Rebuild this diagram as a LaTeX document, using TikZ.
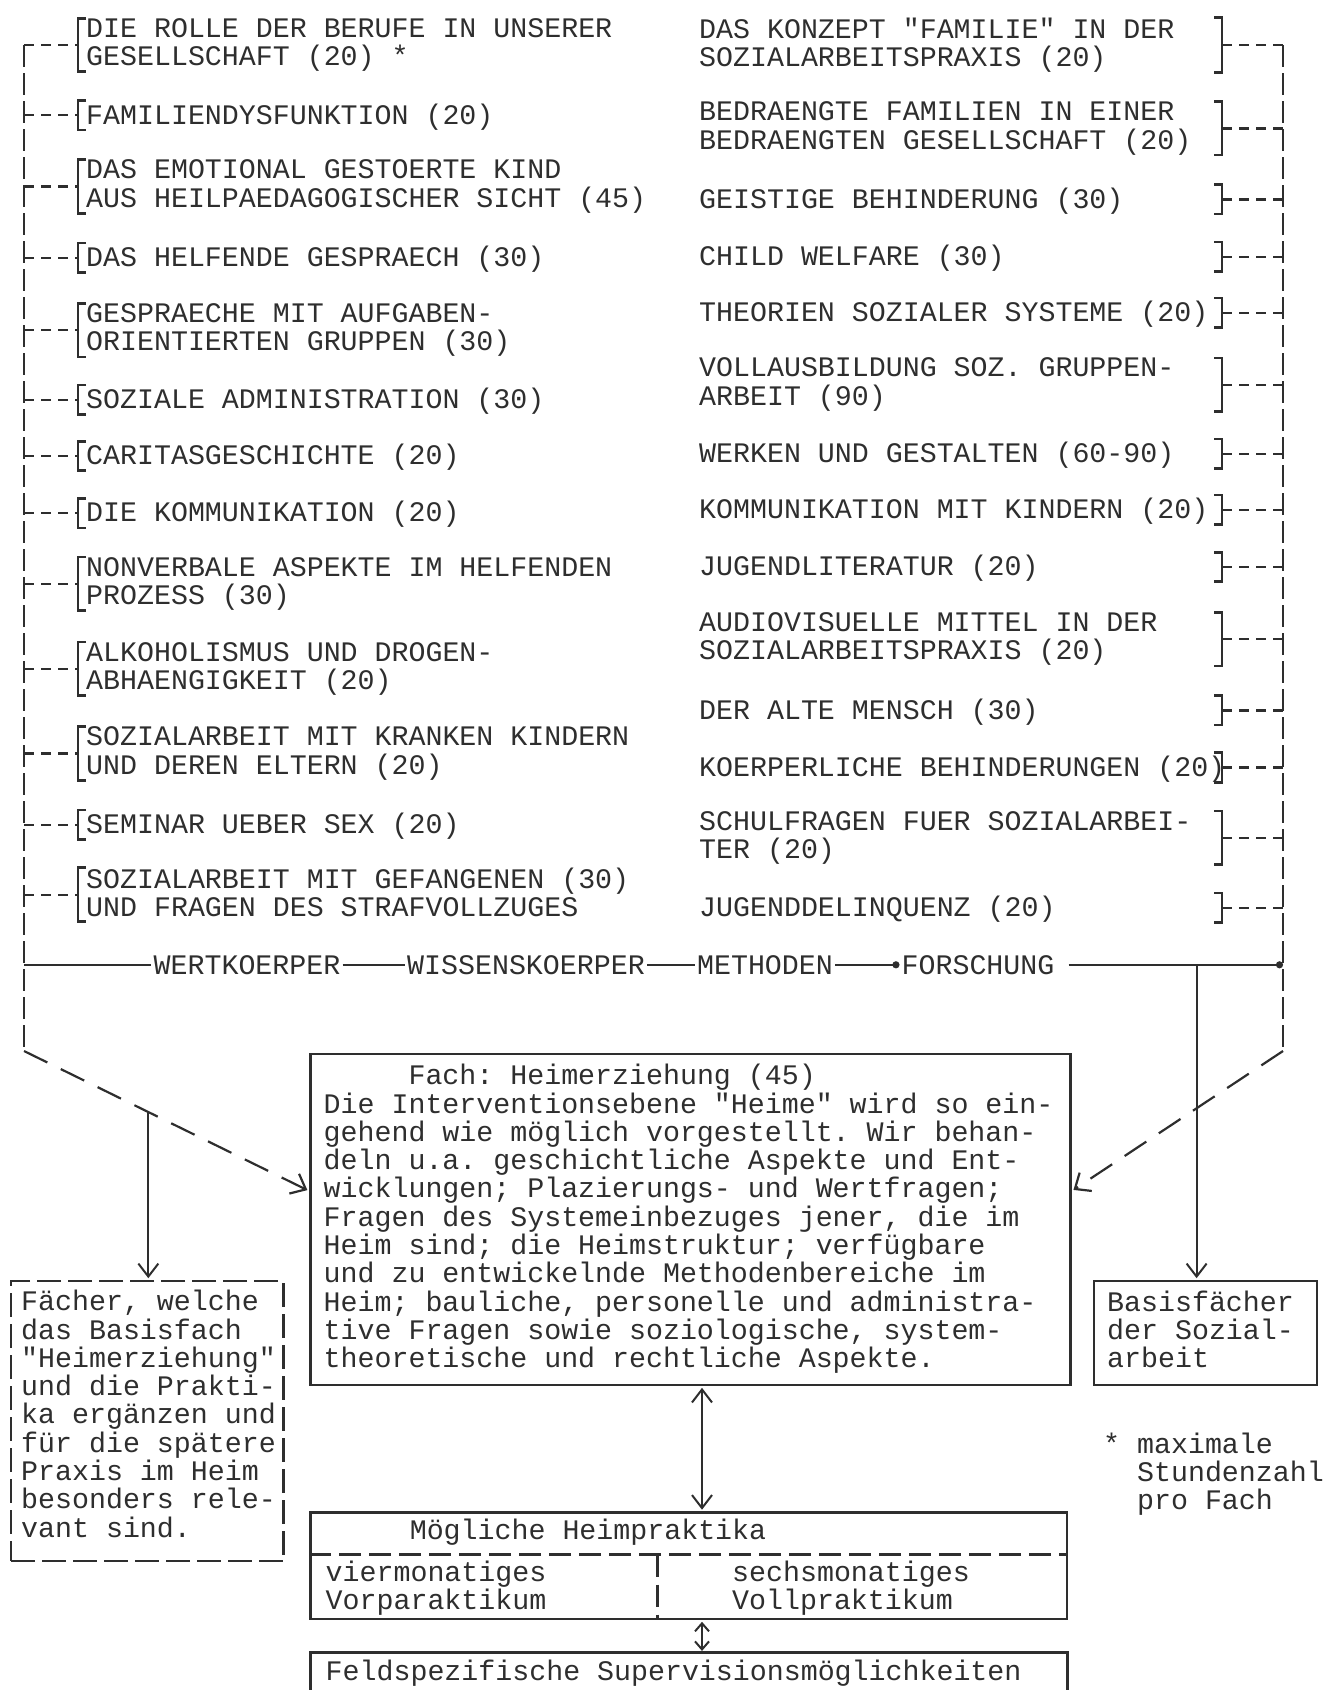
\documentclass[tikz,border=0pt]{standalone}
\usepackage{fontspec}
\setmonofont{Liberation Mono}
\usetikzlibrary{arrows.meta,calc,fit}
\newcommand{\itemfont}{\ttfamily\fontsize{28.28pt}{28.3pt}\selectfont}
\newcommand{\itemstrut}{\rule[-4.7pt]{0pt}{28pt}}
\colorlet{ink}{black!82}
\frenchspacing

\begin{document}
\begin{tikzpicture}[x=1pt,y=-1pt,line join=miter,
    item/.style={font=\itemfont,text=ink,align=left,anchor=west,inner xsep=0pt,inner ysep=0pt,execute at begin node=\itemstrut,execute at end node=\itemstrut},
    litem/.style={item,inner xsep=8pt},
    lbl/.style={item,anchor=center,inner xsep=2pt},
    frame/.style={draw=ink,line width=2.6pt,inner sep=0pt},
    dashframe/.style={frame,dash pattern=on 24pt off 7pt},
    brk/.style={draw=ink,line width=2.6pt},
    spine/.style={draw=ink,line width=2.2pt,dash pattern=on 22pt off 6pt},
    stub/.style={draw=ink,line width=2.2pt,dash pattern=on 10pt off 7pt},
    divide/.style={draw=ink,line width=2.4pt,dash pattern=on 22pt off 8pt},
    diag/.style={draw=ink,line width=2.2pt,dash pattern=on 26pt off 15pt,shorten >=2pt,-{Straight Barb[length=13pt,width=22pt]}},
    base/.style={draw=ink,line width=2.6pt},
    link/.style={draw=ink,line width=2pt,shorten >=1.5pt,-{Straight Barb[length=13pt,width=20pt]}},
    both/.style={draw=ink,line width=2pt,shorten >=1.5pt,shorten <=1.5pt,{Straight Barb[length=13pt,width=20pt]}-{Straight Barb[length=13pt,width=20pt]}},
    bothsmall/.style={draw=ink,line width=2pt,shorten >=1.5pt,shorten <=1.5pt,{Straight Barb[length=8pt,width=14pt]}-{Straight Barb[length=8pt,width=14pt]}}]
  \useasboundingbox (0,0) rectangle (1325,1690);

  % left column
  \node[litem] (l1)  at (78,45)    {DIE ROLLE DER BERUFE IN UNSERER\\GESELLSCHAFT (20) *};
  \node[litem] (l2)  at (78,115.3) {FAMILIENDYSFUNKTION (20)};
  \node[litem] (l3)  at (78,186.5) {DAS EMOTIONAL GESTOERTE KIND\\AUS HEILPAEDAGOGISCHER SICHT (45)};
  \node[litem] (l4)  at (78,257.6) {DAS HELFENDE GESPRAECH (30)};
  \node[litem] (l5)  at (78,330.2) {GESPRAECHE MIT AUFGABEN-\\ORIENTIERTEN GRUPPEN (30)};
  \node[litem] (l6)  at (78,399.9) {SOZIALE ADMINISTRATION (30)};
  \node[litem] (l7)  at (78,456)   {CARITASGESCHICHTE (20)};
  \node[litem] (l8)  at (78,513.1) {DIE KOMMUNIKATION (20)};
  \node[litem] (l9)  at (78,583.7) {NONVERBALE ASPEKTE IM HELFENDEN\\PROZESS (30)};
  \node[litem] (l10) at (78,668.9) {ALKOHOLISMUS UND DROGEN-\\ABHAENGIGKEIT (20)};
  \node[litem] (l11) at (78,753.5) {SOZIALARBEIT MIT KRANKEN KINDERN\\UND DEREN ELTERN (20)};
  \node[litem] (l12) at (78,824.7) {SEMINAR UEBER SEX (20)};
  \node[litem] (l13) at (78,894.7) {SOZIALARBEIT MIT GEFANGENEN (30)\\UND FRAGEN DES STRAFVOLLZUGES};

  % right column
  \node[item] (r1)  at (699,45)    {DAS KONZEPT "FAMILIE" IN DER\\SOZIALARBEITSPRAXIS (20)};
  \node[item] (r2)  at (699,128.4) {BEDRAENGTE FAMILIEN IN EINER\\BEDRAENGTEN GESELLSCHAFT (20)};
  \node[item] (r3)  at (699,199.4) {GEISTIGE BEHINDERUNG (30)};
  \node[item] (r4)  at (699,256.6) {CHILD WELFARE (30)};
  \node[item] (r5)  at (699,312.6) {THEORIEN SOZIALER SYSTEME (20)};
  \node[item] (r6)  at (699,384.6) {VOLLAUSBILDUNG SOZ. GRUPPEN-\\ARBEIT (90)};
  \node[item] (r7)  at (699,453.8) {WERKEN UND GESTALTEN (60-90)};
  \node[item] (r8)  at (699,509.9) {KOMMUNIKATION MIT KINDERN (20)};
  \node[item] (r9)  at (699,567)   {JUGENDLITERATUR (20)};
  \node[item] (r10) at (699,639.2) {AUDIOVISUELLE MITTEL IN DER\\SOZIALARBEITSPRAXIS (20)};
  \node[item] (r11) at (699,710.4) {DER ALTE MENSCH (30)};
  \node[item] (r12) at (699,767.5) {KOERPERLICHE BEHINDERUNGEN (20)};
  \node[item] (r13) at (699,837.8) {SCHULFRAGEN FUER SOZIALARBEI-\\TER (20)};
  \node[item] (r14) at (699,907.7) {JUGENDDELINQUENZ (20)};

  \coordinate (ltop) at (24,45);
  \coordinate (lbot) at (24,1051);
  \coordinate (rtop) at (1283,45);
  \coordinate (rbot) at (1283,1051);
  \coordinate (rb) at (1222,0);

  % dashed spines with brackets
  \draw[spine] (ltop) -- (lbot);
  \draw[spine] (rtop) -- (rbot);
  \foreach \i in {1,...,13} {
    \draw[brk] ([xshift=8pt]l\i.north west) -- (l\i.north west) -- (l\i.south west) -- ([xshift=8pt]l\i.south west);
    \draw[stub] (l\i.west -| ltop) -- (l\i.west);
  }
  \foreach \i in {1,...,14} {
    \draw[brk] ($(r\i.north -| rb)+(-8,0)$) -- (r\i.north -| rb) -- (r\i.south -| rb) -- ($(r\i.south -| rb)+(-8,0)$);
    \draw[stub] (r\i.west -| rb) -- (r\i.west -| rtop);
  }

  % base line
  \node[lbl] (wert)   at (247,964.8) {WERTKOERPER};
  \node[lbl] (wiss)   at (526,964.8) {WISSENSKOERPER};
  \node[lbl] (meth)   at (765,964.8) {METHODEN};
  \node[lbl] (forsch) at (978,964.8) {FORSCHUNG};
  \coordinate (lbase) at (24,964.8);
  \coordinate (rbase) at (1283,964.8);
  \coordinate (rsplit) at (1196.6,964.8);
  \draw[base] (lbase) -- (wert) (wert) -- (wiss) (wiss) -- (meth);
  \draw[base,-{Circle[length=7pt]}] (meth) -- (forsch);
  \draw[base,-{Circle[length=7pt]},shorten <=12pt] (forsch) -- (rbase);

  % boxes
  \coordinate (fa1) at (310.5,1054);
  \coordinate (fa2) at (1070.5,1385);
  \node[frame,fit=(fa1)(fa2)] (fach) {};
  \node[item,anchor=north west] (fachtxt) at (323.5,1064)
    {\phantom{XXXXX}Fach: Heimerziehung (45)\\
     Die Interventionsebene "Heime" wird so ein-\\
     gehend wie möglich vorgestellt. Wir behan-\\
     deln u.a. geschichtliche Aspekte und Ent-\\
     wicklungen; Plazierungs- und Wertfragen;\\
     Fragen des Systemeinbezuges jener, die im\\
     Heim sind; die Heimstruktur; verfügbare\\
     und zu entwickelnde Methodenbereiche im\\
     Heim; bauliche, personelle und administra-\\
     tive Fragen sowie soziologische, system-\\
     theoretische und rechtliche Aspekte.};

  \coordinate (er1) at (11,1281);
  \coordinate (er2) at (283.5,1561);
  \node[dashframe,fit=(er1)(er2)] (erg) {};
  \node[item,anchor=north west] (ergtxt) at (21,1290)
    {Fächer, welche\\das Basisfach\\"Heimerziehung"\\und die Prakti-\\ka ergänzen und\\für die spätere\\Praxis im Heim\\besonders rele-\\vant sind.};

  \coordinate (ba1) at (1094,1281);
  \coordinate (ba2) at (1317,1385);
  \node[frame,fit=(ba1)(ba2)] (bas) {};
  \node[item,anchor=north west] (bastxt) at (1107,1290.4) {Basisfächer\\der Sozial-\\arbeit};

  \node[item] (stern) at (1103,1474) {* maximale\\\phantom{XX}Stundenzahl\\\phantom{XX}pro Fach};

  \coordinate (mo1) at (310.5,1512.5);
  \coordinate (mo2) at (1067,1619);
  \node[frame,fit=(mo1)(mo2)] (mog) {};
  \node[item] (mtitel) at (409.6,1531) {Mögliche Heimpraktika};
  \coordinate (mdiv) at (657.6,1554.5);
  \draw[divide] (mdiv -| mog.west) -- (mdiv -| mog.east);
  \draw[divide] (mdiv) -- (mdiv |- mog.south);
  \node[item] (vor)  at (325.5,1588) {viermonatiges\\Vorparaktikum};
  \node[item] (voll) at (732,1588)   {sechsmonatiges\\Vollpraktikum};

  \coordinate (fe1) at (310.5,1652.6);
  \coordinate (fe2) at (1067,1690);
  \node[inner sep=0pt,fit=(fe1)(fe2)] (feld) {};
  \draw[base] (feld.south west) |- (feld.north east) -- (feld.south east);
  \node[item] (feldtxt) at (325.5,1672) {Feldspezifische Supervisionsmöglichkeiten};

  % arrows
  \draw[diag] (lbot) -- coordinate[pos=0.436] (lsplit) ([yshift=28.5pt]fach.west);
  \draw[diag] (rbot) -- ([yshift=28.5pt]fach.east);
  \draw[link] (lsplit) -- (lsplit |- erg.north);
  \draw[link] (rsplit) -- (rsplit |- bas.north);
  \coordinate (arx) at (702,0);
  \draw[both] (fach.south -| arx) -- (mog.north -| arx);
  \draw[bothsmall] (mog.south -| arx) -- (feld.north -| arx);
\end{tikzpicture}
\end{document}
